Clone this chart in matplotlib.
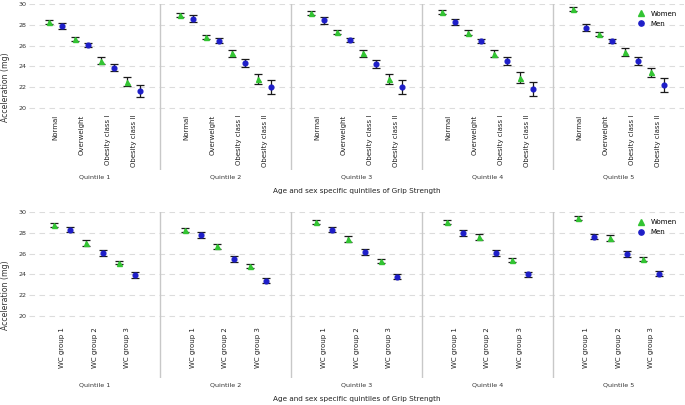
import matplotlib
matplotlib.use("Agg")
import matplotlib.pyplot as plt
from matplotlib.lines import Line2D
import numpy as np

quintiles = ["Quintile 1", "Quintile 2", "Quintile 3", "Quintile 4", "Quintile 5"]
bmi_groups = ["Normal", "Overweight", "Obesity class I", "Obesity class II"]
wc_groups = ["WC group 1", "WC group 2", "WC group 3"]

# BMI panel: rows = quintiles, columns = BMI groups
bmi_women = [[28.26, 26.65, 24.55, 22.50],
             [28.90, 26.80, 25.25, 22.80],
             [29.10, 27.30, 25.25, 22.75],
             [29.20, 27.25, 25.22, 22.90],
             [29.55, 27.13, 25.40, 23.40]]
bmi_women_err = [[0.23, 0.20, 0.35, 0.43],
                 [0.20, 0.20, 0.35, 0.47],
                 [0.20, 0.20, 0.35, 0.48],
                 [0.20, 0.20, 0.35, 0.50],
                 [0.20, 0.20, 0.37, 0.45]]
bmi_men = [[27.87, 26.07, 23.85, 21.60],
           [28.58, 26.48, 24.30, 22.00],
           [28.45, 26.55, 24.25, 22.00],
           [28.30, 26.45, 24.50, 21.80],
           [27.70, 26.40, 24.50, 22.20]]
bmi_men_err = [[0.30, 0.20, 0.35, 0.58],
               [0.32, 0.20, 0.38, 0.68],
               [0.34, 0.20, 0.38, 0.68],
               [0.30, 0.20, 0.35, 0.68],
               [0.35, 0.20, 0.35, 0.65]]

# WC panel
wc_women = [[28.81, 27.03, 25.14],
            [28.30, 26.70, 24.80],
            [29.10, 27.40, 25.30],
            [29.10, 27.60, 25.40],
            [29.48, 27.50, 25.50]]
wc_women_err = [[0.20, 0.28, 0.18],
                [0.20, 0.28, 0.18],
                [0.20, 0.28, 0.18],
                [0.20, 0.28, 0.18],
                [0.20, 0.28, 0.18]]
wc_men = [[28.33, 26.07, 23.97],
          [27.80, 25.50, 23.40],
          [28.30, 26.20, 23.80],
          [28.00, 26.10, 24.00],
          [27.66, 26.00, 24.06]]
wc_men_err = [[0.27, 0.30, 0.28],
              [0.25, 0.28, 0.25],
              [0.25, 0.28, 0.25],
              [0.25, 0.28, 0.25],
              [0.25, 0.28, 0.25]]

GREEN = "#33c433"
BLUE = "#1e1ec8"
ECOL = "#1a1a1a"

fig = plt.figure(figsize=(6.85, 4.05), dpi=100)
W, H = 685.0, 405.0


def make_panel(rect_px, groups, women, women_err, men, men_err, label_top_val):
    left, top, right, bottom = rect_px
    ax = fig.add_axes([left / W, 1 - bottom / H, (right - left) / W, (bottom - top) / H])
    n = len(groups)
    width = 2 * n + 2
    ax.set_xlim(0, width * len(quintiles))
    ax.set_ylim(14, 30)
    ax.set_yticks([20, 22, 24, 26, 28, 30])
    ax.tick_params(axis="y", length=0, labelsize=4.6, pad=2, labelcolor="#333333")
    ax.set_xticks([])
    for s in ax.spines.values():
        s.set_visible(False)
    ax.grid(axis="y", linestyle=(0, (5, 4)), color="#dcdcdc", linewidth=0.8)
    ax.set_axisbelow(True)
    for q, qname in enumerate(quintiles):
        off = q * width
        xw = off + 1.5 + 2 * np.arange(n)
        xm = xw + 1
        ax.errorbar(xw, women[q], yerr=women_err[q], fmt="^", color=GREEN,
                    ms=3.6, ecolor=ECOL, elinewidth=0.9, capsize=2.8, capthick=0.9,
                    zorder=3)
        ax.errorbar(xm, men[q], yerr=men_err[q], fmt="o", color=BLUE,
                    ms=3.4, ecolor=ECOL, elinewidth=0.9, capsize=2.8, capthick=0.9,
                    zorder=3)
        for i, g in enumerate(groups):
            ax.text(off + 2 + 2 * i, label_top_val, g, rotation=90, ha="center",
                    va="top", fontsize=5.0, color="#222222")
        ax.text(off + width / 2, -0.025, qname, transform=ax.get_xaxis_transform(),
                ha="center", va="top", fontsize=4.6, color="#333333")
        if q > 0:
            ax.axvline(off, color="#c8c8c8", linewidth=1.0, zorder=1)
    ax.set_ylabel("Acceleration (mg)", fontsize=5.6, color="#333333")
    ax.yaxis.set_label_coords(-0.029, 0.5)
    ax.set_xlabel("Age and sex specific quintiles of Grip Strength", fontsize=5.2,
                  labelpad=13, color="#222222")
    handles = [Line2D([], [], linestyle="none", marker="^", color=GREEN, ms=4.0),
               Line2D([], [], linestyle="none", marker="o", color=BLUE, ms=3.8)]
    ax.legend(handles, ["Women", "Men"], loc="upper right",
              bbox_to_anchor=(0.995, 0.985), frameon=False, fontsize=5.0,
              handletextpad=0.9, labelspacing=0.6, borderaxespad=0.2,
              handlelength=1.0)
    return ax


make_panel((29, 4, 684, 170), bmi_groups, bmi_women, bmi_women_err,
           bmi_men, bmi_men_err, 19.3)
make_panel((29, 212.3, 684, 378), wc_groups, wc_women, wc_women_err,
           wc_men, wc_men_err, 18.9)

fig.savefig("out.png", dpi=100)
